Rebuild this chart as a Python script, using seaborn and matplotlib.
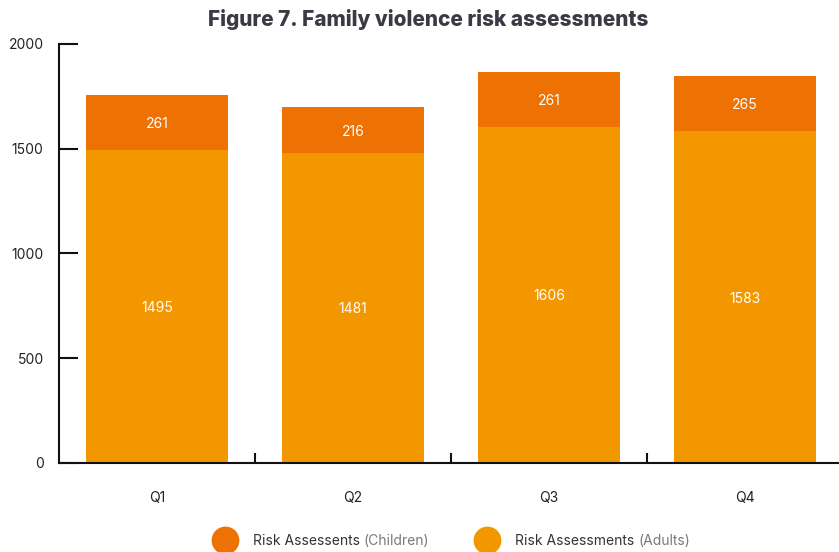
import matplotlib
matplotlib.use("Agg")
import matplotlib.pyplot as plt
from matplotlib.lines import Line2D
from matplotlib.ticker import FixedLocator
import seaborn as sns
import pandas as pd

quarters = ["Q1", "Q2", "Q3", "Q4"]
adults = [1495, 1481, 1606, 1583]
children = [261, 216, 261, 265]
yticks = [0, 500, 1000, 1500, 2000]
legend_main = ["Risk Assessents", "Risk Assessments"]
legend_sub = ["(Children)", "(Adults)"]

c_child = "#EE7203"
c_adult = "#F39700"

sns.set_theme(style="white")
plt.rcParams["font.family"] = ["Inter", "DejaVu Sans"]

totals = [a + c for a, c in zip(adults, children)]
df = pd.DataFrame({"quarter": quarters, "adults": adults, "children": children, "total": totals})

fig = plt.figure(figsize=(8.39, 5.52), dpi=100)
W, H = 839, 552
ax = fig.add_axes([59 / W, 89 / H, 784 / W, 419 / H])

sns.barplot(data=df, x="quarter", y="total", color=c_child, width=0.725,
            saturation=1, ax=ax, edgecolor="none", linewidth=0)
sns.barplot(data=df, x="quarter", y="adults", color=c_adult, width=0.725,
            saturation=1, ax=ax, edgecolor="none", linewidth=0)

ax.set_xlim(-0.5, 3.5)
ax.set_ylim(0, 2000)
ax.set_yticks(yticks)
ax.set_xlabel("")
ax.set_ylabel("")

for s in ["top", "right"]:
    ax.spines[s].set_visible(False)
for s in ["left", "bottom"]:
    ax.spines[s].set_color("#111111")
    ax.spines[s].set_linewidth(1.5)
    ax.spines[s].set_zorder(5)

ax.tick_params(axis="y", left=True, direction="in", length=14, width=1.5, color="#111111",
               labelsize=10, labelcolor="#222222", pad=11)
ax.tick_params(axis="x", which="major", bottom=False, length=0, labelsize=10,
               labelcolor="#222222", pad=20)
ax.xaxis.set_minor_locator(FixedLocator([0.5, 1.5, 2.5]))
ax.tick_params(axis="x", which="minor", bottom=True, direction="in", length=7, width=1.5,
               color="#111111")

for i in range(len(quarters)):
    ax.text(i, adults[i] / 2, str(adults[i]), ha="center", va="center_baseline",
            color="white", fontsize=10)
    ax.text(i, adults[i] + children[i] / 2, str(children[i]), ha="center",
            va="center_baseline", color="white", fontsize=10)

fig.text(428 / W, 1 - 20 / H, "Figure 7. Family violence risk assessments",
         ha="center", va="center", fontsize=15, fontweight="heavy", color="#3a3a45")

handles = [Line2D([], [], marker="o", linestyle="none", markersize=19,
                  markerfacecolor=c, markeredgecolor=c) for c in (c_child, c_adult)]
leg = fig.legend(handles, legend_main, loc="center left", ncol=2,
                 bbox_to_anchor=(204 / W, 1 - 541 / H), frameon=False, borderpad=0,
                 fontsize=10, handletextpad=1.0, columnspacing=8.2, labelcolor="#333333")

fig.canvas.draw()
r = fig.canvas.get_renderer()
for t, sub in zip(leg.get_texts(), legend_sub):
    bb = t.get_window_extent(r)
    x0, y0 = t.get_transform().transform(t.get_position())
    fig.text((bb.x1 + 4) / W, y0 / H, sub, ha="left", va=t.get_va(),
             fontproperties=t.get_fontproperties(), color="#7a7a7a")

fig.savefig("out.png", dpi=100)
